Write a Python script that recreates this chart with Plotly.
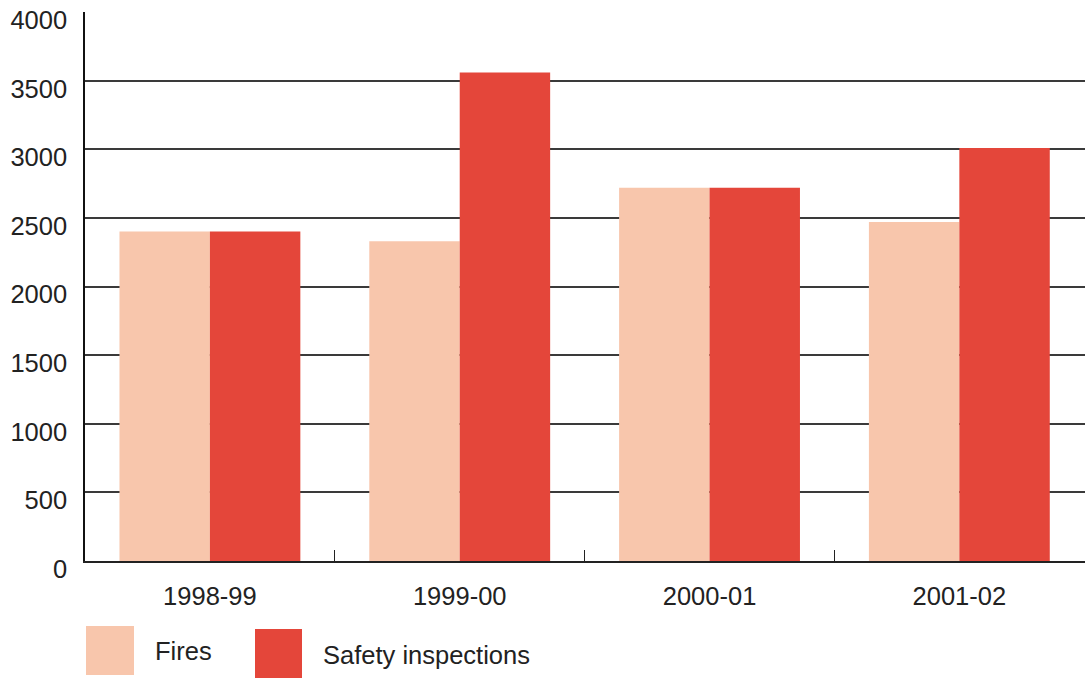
import plotly.graph_objects as go

categories = ["1998-99", "1999-00", "2000-01", "2001-02"]
fires = [2400, 2330, 2720, 2470]
safety_inspections = [2400, 3560, 2720, 3010]
series_names = ["Fires", "Safety inspections"]
y_ticks = [0, 500, 1000, 1500, 2000, 2500, 3000, 3500, 4000]

FIRE_COLOR = "#F8C6AC"
SAFETY_COLOR = "#E4463A"
FONT = dict(family="Liberation Sans, Arial, sans-serif", size=25.5, color="#222222")

W, H = 1085, 679
ML, MR, MT, MB = 85, 0, 12, 118
PW, PH = W - ML - MR, H - MT - MB

fig = go.Figure()
fig.add_trace(go.Bar(x=categories, y=fires, name=series_names[0],
                     marker=dict(color=FIRE_COLOR, line=dict(width=0)), showlegend=False))
fig.add_trace(go.Bar(x=categories, y=safety_inspections, name=series_names[1],
                     marker=dict(color=SAFETY_COLOR, line=dict(width=0)), showlegend=False))

def px_to_paper(px, py):
    return (px - ML) / PW, (H - MB - py) / PH

shapes = []
annotations = []
legend_items = [
    (series_names[0], FIRE_COLOR, (86, 626, 134, 675), (153, 651)),
    (series_names[1], SAFETY_COLOR, (255, 629, 302, 678), (321, 655)),
]
for name, color, (x0, y0, x1, y1), (tx, ty) in legend_items:
    a0, b0 = px_to_paper(x0, y0)
    a1, b1 = px_to_paper(x1, y1)
    shapes.append(dict(type="rect", xref="paper", yref="paper", x0=a0, x1=a1, y0=b0, y1=b1,
                       fillcolor=color, line=dict(width=0)))
    ax, ay = px_to_paper(tx, ty)
    annotations.append(dict(text=name, xref="paper", yref="paper", x=ax, y=ay,
                            xanchor="left", yanchor="middle", showarrow=False, font=FONT))

fig.update_layout(
    width=W, height=H,
    margin=dict(l=ML, r=MR, t=MT, b=MB, pad=0),
    paper_bgcolor="white", plot_bgcolor="white",
    barmode="group", bargap=0.276, bargroupgap=0,
    font=FONT,
    shapes=shapes, annotations=annotations,
)
fig.update_xaxes(
    type="category",
    range=[-0.5, 3.503],
    showline=True, linecolor="#222222", linewidth=1.5,
    ticks="inside", tickson="boundaries", ticklen=11, tickcolor="#222222", tickwidth=1,
    showgrid=False, ticklabelstandoff=12, tickfont=FONT,
)
fig.update_yaxes(
    range=[0, 4000], tickvals=y_ticks,
    showline=True, linecolor="#111111", linewidth=1.5,
    showgrid=True, gridcolor="#3a3a3a", gridwidth=1.5,
    zeroline=False, ticks="", ticklabelstandoff=11, ticklabelshift=8, tickfont=FONT,
)

fig.write_html("out.html")
